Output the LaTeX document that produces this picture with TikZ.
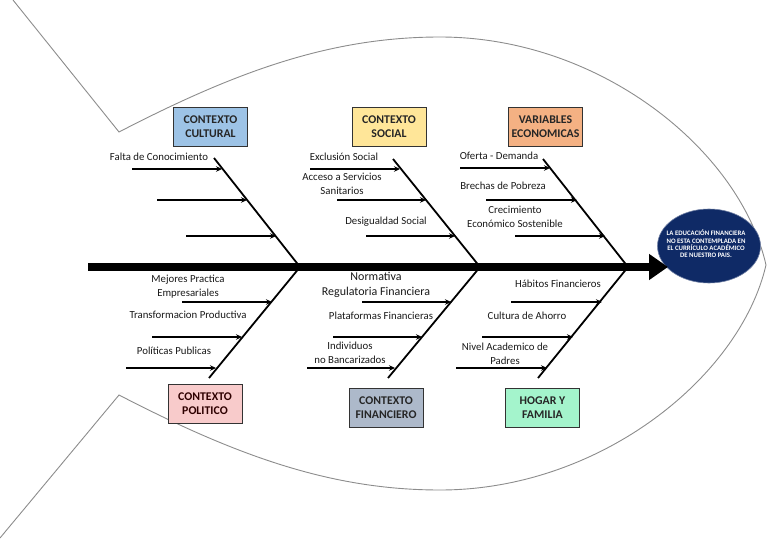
\documentclass[tikz,border=0pt]{standalone}
\usepackage{fontspec}
\setmainfont{Carlito}
\usepackage{tikz}
\usetikzlibrary{arrows.meta, shapes.geometric}

\definecolor{culblue}{HTML}{9DC3E6}
\definecolor{socyellow}{HTML}{FFE699}
\definecolor{ecoorange}{HTML}{F4B183}
\definecolor{polpink}{HTML}{F8CBCB}
\definecolor{fingray}{HTML}{ADB9CA}
\definecolor{hogmint}{HTML}{A4F4CC}
\definecolor{headblue}{HTML}{0F2A66}

\tikzset{
  catbox/.style={draw=black!80, line width=0.9pt, fill=#1, minimum width=74pt, minimum height=39pt,
    align=center, inner sep=1pt, text=black!85, font=\fontsize{11.8}{14}\selectfont\bfseries},
  lbl/.style={align=center, inner sep=0pt, text=black!90, font=\fontsize{10.8}{13.8}\selectfont},
  bone/.style={line width=1.8pt},
  sub/.style={line width=1.5pt, -{Stealth[length=6pt, width=5.5pt]}},
  spine/.style={line width=7.5pt, -{Triangle[length=19pt, width=25pt]}},
  fishline/.style={draw=black!45, line width=0.9pt},
  head/.style={ellipse, fill=headblue, draw=headblue!60!white, line width=0.6pt,
    minimum width=103pt, minimum height=74pt, inner sep=0pt},
  headtxt/.style={align=center, inner sep=0pt, text=white, font=\fontsize{6.8}{7.3}\selectfont\bfseries}
}

\begin{document}
\begin{tikzpicture}[x=1pt, y=-1pt]
	\useasboundingbox (0,0) rectangle (768,543);
	\clip (0,0) rectangle (768,543);

	% fish body
	\coordinate (tailtop) at (13,0);
	\coordinate (tailbot) at (0,538);
	\coordinate (notchtop) at (119,132);
	\coordinate (notchbot) at (119,395);
	\coordinate (nose) at (766,265);
	\draw[fishline] (tailtop) -- (notchtop)
		.. controls (235,72) and (330,37) .. (440,37)
		.. controls (600,37) and (740,150) .. (nose)
		.. controls (740,377) and (600,490) .. (440,490)
		.. controls (330,490) and (235,455) .. (notchbot) -- (tailbot);

	% head
	\node[head] (head) at (709,246) {};
	\node[headtxt] (headtext) at (706,244) {LA EDUCACIÓN FINANCIERA\\NO ESTA CONTEMPLADA EN\\EL CURRÍCULO ACADÉMICO\\DE NUESTRO PAIS.};

	% spine
	\coordinate (spine0) at (88,267);
	\coordinate (spine1) at (668,267);
	\draw[spine] (spine0) -- (spine1);

	\begin{scope}[shift={(300,267)}]
		\node[catbox=culblue] (cultural) at (-89.5,-140.5) {CONTEXTO\\CULTURAL};
		\coordinate (culJ) at (0,0);
		\coordinate (culT) at (-86,-109);
		\draw[bone] (culT) -- (culJ);
		\coordinate (culA1) at (-168,-98); \coordinate (culB1) at (-78,-98);
		\coordinate (culA2) at (-143,-67); \coordinate (culB2) at (-53,-67);
		\coordinate (culA3) at (-114,-31); \coordinate (culB3) at (-24,-31);
		\draw[sub] (culA1) -- (culB1);
		\draw[sub] (culA2) -- (culB2);
		\draw[sub] (culA3) -- (culB3);
		\node[lbl] (falta) at (-141,-110) {Falta de Conocimiento};
	\end{scope}

	\begin{scope}[shift={(480,267)}]
		\node[catbox=socyellow] (social) at (-91,-140.5) {CONTEXTO\\SOCIAL};
		\coordinate (socJ) at (0,0);
		\coordinate (socT) at (-87,-108);
		\draw[bone] (socT) -- (socJ);
		\coordinate (socA1) at (-170,-98); \coordinate (socB1) at (-80,-98);
		\coordinate (socA2) at (-143,-67); \coordinate (socB2) at (-54,-67);
		\coordinate (socA3) at (-114,-31); \coordinate (socB3) at (-25,-31);
		\draw[sub] (socA1) -- (socB1);
		\draw[sub] (socA2) -- (socB2);
		\draw[sub] (socA3) -- (socB3);
		\node[lbl] (exclusion) at (-136,-110) {Exclusión Social};
		\node[lbl] (acceso) at (-138,-83) {Acceso a Servicios\\Sanitarios};
		\node[lbl] (desigualdad) at (-94,-45) {Desigualdad Social};
	\end{scope}

	\begin{scope}[shift={(628,267)}]
		\node[catbox=ecoorange] (economicas) at (-82.5,-140.5) {VARIABLES\\ECONOMICAS};
		\coordinate (ecoJ) at (0,0);
		\coordinate (ecoT) at (-85,-108);
		\draw[bone] (ecoT) -- (ecoJ);
		\coordinate (ecoA1) at (-168,-99); \coordinate (ecoB1) at (-78,-99);
		\coordinate (ecoA2) at (-142,-67); \coordinate (ecoB2) at (-51,-67);
		\coordinate (ecoA3) at (-113,-31); \coordinate (ecoB3) at (-23,-31);
		\draw[sub] (ecoA1) -- (ecoB1);
		\draw[sub] (ecoA2) -- (ecoB2);
		\draw[sub] (ecoA3) -- (ecoB3);
		\node[lbl] (oferta) at (-129,-111) {Oferta - Demanda};
		\node[lbl] (brechas) at (-125,-81) {Brechas de Pobreza};
		\node[lbl] (crecimiento) at (-113,-50) {Crecimiento\\Económico Sostenible};
	\end{scope}

	\begin{scope}[shift={(300,267)}]
		\node[catbox=polpink, text=black!70!red!60!black] (politico) at (-95,136.5) {CONTEXTO\\POLITICO};
		\coordinate (polJ) at (0,0);
		\coordinate (polT) at (-91,111);
		\draw[bone] (polJ) -- (polT);
		\coordinate (polA1) at (-118,35); \coordinate (polB1) at (-28,35);
		\coordinate (polA2) at (-148,70); \coordinate (polB2) at (-58,70);
		\coordinate (polA3) at (-174,101); \coordinate (polB3) at (-84,101);
		\draw[sub] (polA1) -- (polB1);
		\draw[sub] (polA2) -- (polB2);
		\draw[sub] (polA3) -- (polB3);
		\node[lbl] (mejores) at (-112,20) {Mejores Practica\\Empresariales};
		\node[lbl] (transformacion) at (-112,48) {Transformacion Productiva};
		\node[lbl] (politicas) at (-126,84) {Políticas Publicas};
	\end{scope}

	\begin{scope}[shift={(480,267)}]
		\node[catbox=fingray] (financiero) at (-94,141) {CONTEXTO\\FINANCIERO};
		\coordinate (finJ) at (0,0);
		\coordinate (finT) at (-92,111);
		\draw[bone] (finJ) -- (finT);
		\coordinate (finA1) at (-118,35); \coordinate (finB1) at (-29,35);
		\coordinate (finA2) at (-147,70); \coordinate (finB2) at (-58,70);
		\coordinate (finA3) at (-173,101); \coordinate (finB3) at (-85,101);
		\draw[sub] (finA1) -- (finB1);
		\draw[sub] (finA2) -- (finB2);
		\draw[sub] (finA3) -- (finB3);
		\node[lbl, font=\fontsize{12}{15}\selectfont] (normativa) at (-104,18) {Normativa\\Regulatoria Financiera};
		\node[lbl] (plataformas) at (-99,49) {Plataformas Financieras};
		\node[lbl] (individuos) at (-130,86) {Individuos\\no Bancarizados};
	\end{scope}

	\begin{scope}[shift={(628,267)}]
		\node[catbox=hogmint] (hogar) at (-85.5,140.5) {HOGAR Y\\FAMILIA};
		\coordinate (hogJ) at (0,0);
		\coordinate (hogT) at (-90,111);
		\draw[bone] (hogJ) -- (hogT);
		\coordinate (hogA1) at (-117,35); \coordinate (hogB1) at (-26,35);
		\coordinate (hogA2) at (-146,70); \coordinate (hogB2) at (-55,70);
		\coordinate (hogA3) at (-172,101); \coordinate (hogB3) at (-81,101);
		\draw[sub] (hogA1) -- (hogB1);
		\draw[sub] (hogA2) -- (hogB2);
		\draw[sub] (hogA3) -- (hogB3);
		\node[lbl] (habitos) at (-70,17) {Hábitos Financieros};
		\node[lbl] (ahorro) at (-101,49) {Cultura de Ahorro};
		\node[lbl] (nivel) at (-123,87) {Nivel Academico de\\Padres};
	\end{scope}
\end{tikzpicture}
\end{document}
